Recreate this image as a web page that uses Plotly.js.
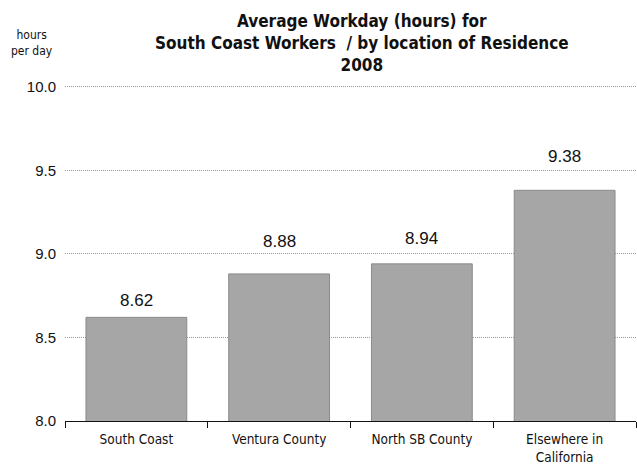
<!DOCTYPE html>
<html>
<head>
<meta charset="utf-8">
<script src="https://cdn.plot.ly/plotly-3.0.1.min.js"></script>
<style>html,body{margin:0;padding:0;background:#fff;}#chart{width:637px;height:464px;}</style>
</head>
<body>
<div id="chart"></div>
<script>
// Average workday of South Coast workers by place of residence, 2008
const categories = ["South Coast", "Ventura County", "North SB County", "Elsewhere in<br>California"];
const hours = [8.62, 8.88, 8.94, 9.38];
const yTicks = [8.0, 8.5, 9.0, 9.5, 10.0];
const yTickText = ["8.0", "8.5", "9.0", "9.5", "10.0"];

const narrow = "'DejaVu Sans Condensed', 'Liberation Sans', Arial, sans-serif";
const plain = "'Liberation Sans', Arial, sans-serif";

const bars = {
  type: "bar",
  x: categories,
  y: hours,
  base: 0,
  marker: { color: "#a6a6a6", line: { color: "#8a8a8a", width: 1 } },
  hoverinfo: "x+y"
};

// value printed above each bar, each with its own lift above the bar top (px)
const labelLift = [5, 21, 14, 22];
const valueLabels = categories.map((c, i) => ({
  x: c, y: hours[i], xref: "x", yref: "y",
  text: hours[i].toFixed(2),
  showarrow: false, yanchor: "bottom", yshift: labelLift[i],
  font: { family: plain, size: 17, color: "#111" }
}));

const layout = {
  width: 637, height: 464,
  margin: { l: 65, r: 1, t: 85, b: 43 },
  paper_bgcolor: "#fff", plot_bgcolor: "#fff",
  showlegend: false,
  bargap: 0.294,
  title: {
    text: "<b>Average Workday (hours) for<br>South Coast Workers  / by location of Residence<br>2008</b>",
    font: { family: narrow, size: 17, color: "#111" },
    xref: "container", yref: "container",
    x: 0.568, xanchor: "center", y: 0.942, yanchor: "top"
  },
  xaxis: {
    type: "category",
    showline: true, linecolor: "#111", linewidth: 1,
    ticks: "outside", tickson: "boundaries", ticklen: 6, tickcolor: "#111",
    tickfont: { family: narrow, size: 13.5, color: "#111" },
    ticklabelstandoff: 6,
    showgrid: false, fixedrange: true
  },
  yaxis: {
    // headroom above 10.0 keeps its gridline away from the plot edge so it is drawn
    range: [8.0, 10.01],
    tickvals: yTicks, ticktext: yTickText,
    tickfont: { family: plain, size: 15, color: "#111" },
    showgrid: true, gridcolor: "#999", griddash: "1px,1px", gridwidth: 1,
    zeroline: false, showline: false, ticks: "", ticklabelstandoff: 8,
    fixedrange: true
  },
  annotations: valueLabels.concat([{
    xref: "paper", yref: "paper", x: -0.0578, y: 1.1257,
    xanchor: "center", yanchor: "middle", showarrow: false,
    text: "hours<br>per day",
    font: { family: narrow, size: 12, color: "#111" }
  }])
};

Plotly.newPlot("chart", [bars], layout, { displayModeBar: false, staticPlot: true });
</script>
</body>
</html>
